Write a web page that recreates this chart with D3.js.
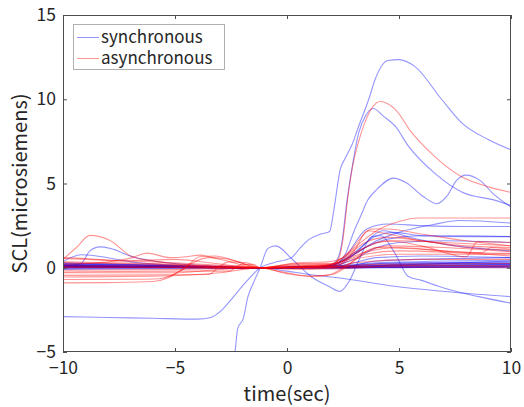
<!DOCTYPE html>
<html>
<meta charset="utf-8">
<style>
body { margin: 0; background: #fff; }
text { font-family: "Noto Sans CJK JP", "Noto Sans", sans-serif; fill: #262626; }
.trace { fill: none; stroke-width: 1.1; }
</style>
<body>
<svg id="chart" width="524" height="407"></svg>
<script src="https://cdn.jsdelivr.net/npm/d3@7"></script>
<script>
// ticks
var xTicks = [-10, -5, 0, 5, 10];
var yTicks = [-5, 0, 5, 10, 15];
var seriesNames = ["synchronous", "asynchronous"];

// synchronous traces, [time, SCL]
var sync01 = [[-10,-2.9],[-8,-2.95],[-6,-3.0],[-4,-3.05],[-3.4,-2.95],[-2.9,-2.5],[-2.5,-1.9],[-1.8,-0.8],[-1.2,0],[-0.6,0.3],[0.2,0.6],[0.6,1.2],[1.0,1.7],[1.5,2.0],[1.9,2.15],[2.1,3.5],[2.37,5.8],[2.6,6.5],[2.9,7.3],[3.2,8.4],[3.65,10.0],[3.94,11.2],[4.5,12.3],[5.0,12.35],[5.7,11.95],[6.9,10.0],[7.8,8.6],[9.0,7.6],[10,7.0]];
var sync02 = [[-10,0.15],[-6,0.1],[-1.2,0],[0,0.05],[1,0.05],[1.8,0.1],[2.2,0.4],[2.45,1.5],[2.68,4.0],[2.95,6.3],[3.2,8.0],[3.5,9.0],[3.85,9.45],[4.3,9.0],[4.83,8.4],[5.43,7.2],[6.6,5.6],[7.8,4.5],[9.3,4.0],[10,3.7]];
var sync03 = [[-10,0.1],[-1.2,0],[1,0.05],[2.0,0.15],[2.3,0.3],[2.6,0.8],[3.0,2.2],[3.3,3.1],[3.6,4.0],[4.0,4.63],[4.75,5.32],[5.34,5.03],[6.08,4.23],[6.7,3.8],[7.13,4.23],[7.58,5.2],[8.0,5.5],[8.6,5.2],[9.2,4.4],[10,3.6]];
var sync04 = [[-2.6,-7.5],[-2.32,-5.0],[-2.2,-3.6],[-1.95,-3.0],[-1.74,-1.7],[-1.5,-0.9],[-1.2,0],[-0.85,1.15],[-0.5,1.3],[0.2,0.55],[1.1,-0.55],[1.86,-1.1],[2.37,-1.4],[2.8,-0.75],[3.2,0.43],[3.8,1.85],[4.2,1.9],[4.8,0.9],[5.4,-0.5],[6.0,-0.75],[7,-1.2],[8.5,-1.7],[10,-2.1]];
var sync05 = [[-10,0.1],[-5,0.05],[-1.2,0],[0,-0.2],[1,-0.4],[2.6,-0.65],[4.8,-1.1],[7.8,-1.5],[10,-1.72]];
var sync06 = [[-10,0.1],[-9.2,0.24],[-8.8,1.0],[-8.35,1.24],[-7.9,1.15],[-6.9,0.65],[-5.4,0.3],[-3,0.1],[-1.2,0],[0,0.05],[1.5,0.1],[2.5,0.4],[3.5,1.2],[4.5,1.7],[6,1.9],[8,1.9],[10,1.85]];
var sync07 = [[-10,0.37],[-9.2,0.77],[-8.5,0.7],[-7,0.35],[-5,0.15],[-1.2,0],[1,0.05],[2,0.1],[3,0.5],[4,1.2],[5,1.5],[7,1.6],[10,1.5]];
var sync08 = [[-10,0.05],[-1.2,0],[1.5,0.05],[2,0.15],[3,0.8],[4,1.6],[5,2.1],[6.5,2.55],[7.7,2.8],[10,2.65]];
var sync09 = [[-10,0.0],[-1.2,0],[1.8,0.05],[2.5,0.5],[3.56,2.3],[4.5,2.6],[6,2.5],[8,2.45],[10,2.45]];
var sync10 = [[-10,0.15],[-1.2,0],[2,0.1],[3,0.9],[4,1.9],[4.8,2.1],[6,1.9],[8,1.85],[10,1.85]];
var sync11 = [[-10,0.1],[-1.2,0],[2.2,0.1],[3,0.8],[4.3,2.2],[5.5,1.8],[7,1.4],[10,1.0]];
var sync12 = [[-10,0.05],[-1.2,0],[2,0.05],[3,0.3],[4,0.6],[6,0.7],[10,0.6]];
var sync13 = [[-10,0.2],[-5,0.12],[-1.2,0],[2,0.05],[5,0.2],[10,0.3]];
var sync14 = [[-10,0.1],[-5,0.08],[-1.2,0],[2,0.0],[5,0.1],[10,0.15]];
var sync15 = [[-10,-0.05],[-5,0.0],[-1.2,0],[2,-0.05],[5,0.05],[10,0.05]];
var sync16 = [[-10,0.3],[-6,0.15],[-1.2,0],[2,0.1],[4,0.3],[10,0.45]];
var sync17 = [[-10,0.0],[-4,0.02],[-1.2,0],[3,0.1],[10,0.2]];
var sync18 = [[-10,0.15],[-1.2,0],[2.5,0.05],[4,0.4],[10,0.6]];
var sync19 = [[-10,-0.1],[-1.2,0],[3,0.0],[10,0.1]];
var sync20 = [[-10,0.25],[-7,0.2],[-1.2,0],[2,0.0],[3.5,0.2],[10,0.35]];
var sync21 = [[-10,0.05],[-1.2,0],[2,0.02],[10,0.0]];
var sync22 = [[-10,0.12],[-1.2,0],[2.5,0.1],[5,0.3],[10,0.25]];
var sync23 = [[-10,0.08],[-5,0.06],[-1.2,0],[2,0.03],[6,0.12],[10,0.18]];
var sync24 = [[-10,0.18],[-6,0.1],[-1.2,0],[2.5,0.05],[6,0.2],[10,0.22]];
var sync25 = [[-10,0.02],[-5,0.04],[-1.2,0],[2,0.05],[6,0.08],[10,0.1]];
var sync26 = [[-10,0.22],[-7,0.16],[-1.2,0],[3,0.08],[7,0.25],[10,0.4]];
var sync27 = [[-10,0.06],[-4,0.05],[-1.2,0],[2,0.0],[6,0.02],[10,0.05]];

// asynchronous traces, [time, SCL]
var async01 = [[-10,0.05],[-5,0.05],[-1.2,0],[1,0.05],[2.0,0.1],[2.3,0.5],[2.5,1.7],[2.7,4.0],[2.9,5.8],[3.2,7.5],[3.5,8.7],[3.8,9.5],[4.17,9.87],[4.83,9.4],[5.58,8.0],[6.6,6.6],[7.8,5.4],[9.0,4.8],[10,4.47]];
var async02 = [[-10,0.5],[-9.4,1.2],[-8.8,1.92],[-7.9,1.62],[-6.9,0.65],[-5.4,0.3],[-3,0.1],[-1.2,0],[0,0.1],[2,0.15],[3,0.8],[4,1.5],[5,1.6],[7,1.5],[10,1.3]];
var async03 = [[-10,0.3],[-6,0.2],[-1.2,0],[1,0.1],[1.8,0.15],[2.5,0.6],[3.2,1.4],[4.0,2.2],[5.0,2.75],[5.9,2.95],[10,2.95]];
var async04 = [[-10,0.2],[-8,0.35],[-6.9,0.6],[-6.26,0.87],[-5.2,0.6],[-4.5,0.65],[-3.9,0.75],[-3,0.5],[-1.2,0],[1,0.05],[2,0.2],[2.8,1.0],[3.8,2.3],[4.5,2.3],[6,2.0],[8,1.6],[10,1.3]];
var async05 = [[-10,-0.9],[-8,-0.88],[-6,-0.82],[-5.3,-0.6],[-4.8,-0.2],[-4.2,0.3],[-3.5,0.6],[-2.8,0.55],[-1.2,0],[1,-0.1],[2.2,0.1],[3,1.0],[3.6,2.2],[4.5,2.0],[6,1.6],[8,1.3],[10,1.2]];
var async06 = [[-10,-0.7],[-7,-0.68],[-5.7,-0.65],[-4.6,-0.06],[-3.9,0.65],[-3.2,0.7],[-2.4,0.45],[-1.2,0],[0.5,0.2],[2,0.2],[3,0.9],[4.5,1.6],[6,1.3],[8,0.65],[8.5,1.55],[10,1.5]];
var async07 = [[-10,-0.45],[-6,-0.42],[-3.5,-0.4],[-3.0,0.1],[-2.6,0.35],[-1.8,0.3],[-1.2,0],[0.5,0.25],[2,0.25],[3,0.6],[4,1.2],[6,1.1],[8,0.9],[10,0.85]];
var async08 = [[-10,-0.25],[-5,-0.2],[-2.6,-0.2],[-2.0,0.2],[-1.5,0.2],[-1.2,0],[0.5,0.3],[1.8,0.35],[2.5,0.6],[3.5,1.5],[4.5,1.8],[6,1.6],[8,1.2],[10,1.05]];
var async09 = [[-10,0.55],[-7,0.4],[-5,0.3],[-3,0.15],[-1.2,0],[0,-0.3],[1,-0.5],[2,-0.4],[2.8,0.2],[3.5,0.9],[5,1.2],[7,1.0],[8.7,0.9],[9.1,1.2],[10,1.1]];
var async10 = [[-10,0.35],[-6,0.25],[-1.2,0],[2,0.1],[3,0.5],[5,0.8],[10,0.8]];
var async11 = [[-10,-0.3],[-5,-0.3],[-3,-0.1],[-1.2,0],[2,0.0],[3,0.3],[6,0.5],[10,0.5]];
var async12 = [[-10,0.15],[-5,0.1],[-1.2,0],[2,0.05],[4,0.2],[10,0.25]];
var async13 = [[-10,-0.15],[-5,-0.1],[-1.2,0],[2,-0.05],[5,0.1],[10,0.1]];
var async14 = [[-10,0.0],[-1.2,0],[3,0.05],[10,0.0]];
var async15 = [[-10,0.6],[-9,0.55],[-7.5,0.4],[-5,0.5],[-3.5,0.3],[-1.2,0],[1,0.15],[2,0.2],[3,0.7],[4.5,1.3],[7,1.2],[10,0.95]];
var async16 = [[-10,-0.55],[-6,-0.5],[-3,-0.3],[-1.2,0],[0,-0.35],[1,-0.5],[1.8,-0.45],[2.5,0.0],[3.5,0.8],[5,1.0],[10,0.7]];
var async17 = [[-10,0.05],[-5,0.02],[-1.2,0],[2,0.05],[6,0.15],[10,0.1]];

var syncList = [sync01,sync02,sync03,sync04,sync05,sync06,sync07,sync08,sync09,sync10,sync11,sync12,sync13,
                sync14,sync15,sync16,sync17,sync18,sync19,sync20,sync21,sync22,sync23,sync24,sync25,sync26,sync27];
var asyncList = [async01,async02,async03,async04,async05,async06,async07,async08,async09,
                 async10,async11,async12,async13,async14,async15,async16,async17];

var blue = "rgba(0,0,255,0.42)";
var red = "rgba(255,0,0,0.42)";

var svg = d3.select("#chart");
var plotL = 63, plotR = 511, plotT = 15, plotB = 352;

var x = d3.scaleLinear().domain([-10, 10]).range([plotL, plotR]);
var y = d3.scaleLinear().domain([-5, 15]).range([plotB, plotT]);

function fmt(d) { return d < 0 ? "\u2212" + Math.abs(d) : "" + d; }

svg.append("clipPath").attr("id", "plotclip")
  .append("rect").attr("x", plotL).attr("y", plotT)
  .attr("width", plotR - plotL).attr("height", plotB - plotT);

var line = d3.line()
  .x(function(d) { return x(d[0]); })
  .y(function(d) { return y(d[1]); })
  .curve(d3.curveMonotoneX);

var plot = svg.append("g").attr("clip-path", "url(#plotclip)");

plot.selectAll(".sync").data(syncList).enter().append("path")
  .attr("class", "trace sync")
  .attr("stroke", blue)
  .attr("d", line);

plot.selectAll(".async").data(asyncList).enter().append("path")
  .attr("class", "trace async")
  .attr("stroke", red)
  .attr("d", line);

// axes, ticks pointing inward like matlab
var axisColor = "#4d4d4d";
var gx = svg.append("g").attr("transform", "translate(0," + plotB + ")")
  .call(d3.axisBottom(x).tickValues(xTicks).tickSizeInner(-4).tickSizeOuter(0).tickPadding(10).tickFormat(fmt));
var gy = svg.append("g").attr("transform", "translate(" + plotL + ",0)")
  .call(d3.axisLeft(y).tickValues(yTicks).tickSizeInner(-4).tickSizeOuter(0).tickPadding(7).tickFormat(fmt));
var gt = svg.append("g").attr("transform", "translate(0," + plotT + ")")
  .call(d3.axisTop(x).tickValues(xTicks).tickSizeInner(-4).tickSizeOuter(0).tickFormat(""));
var gr = svg.append("g").attr("transform", "translate(" + plotR + ",0)")
  .call(d3.axisRight(y).tickValues(yTicks).tickSizeInner(-4).tickSizeOuter(0).tickFormat(""));

[gx, gy, gt, gr].forEach(function(g) {
  g.select(".domain").remove();
  g.selectAll("line").attr("stroke", axisColor);
  g.selectAll("text").style("font-size", "17.5px").attr("fill", "#262626");
});
gx.selectAll("text").attr("dy", "0.7em");

svg.append("rect")
  .attr("x", plotL + 0.5).attr("y", plotT + 0.5)
  .attr("width", plotR - plotL - 1).attr("height", plotB - plotT - 1)
  .attr("fill", "none").attr("stroke", axisColor);

svg.append("text")
  .attr("x", (plotL + plotR) / 2).attr("y", 401)
  .attr("text-anchor", "middle").style("font-size", "20px")
  .text("time(sec)");

svg.append("text")
  .attr("transform", "translate(27," + ((plotT + plotB) / 2) + ") rotate(-90)")
  .attr("text-anchor", "middle").style("font-size", "20px")
  .text("SCL(microsiemens)");

// legend
var lg = svg.append("g");
lg.append("rect").attr("x", 73.5).attr("y", 24.5).attr("width", 151).attr("height", 45)
  .attr("fill", "#fff").attr("stroke", "#b0b0b0");
[blue, red].forEach(function(c, i) {
  var yy = 37.5 + i * 21;
  lg.append("line").attr("x1", 77).attr("x2", 99).attr("y1", yy).attr("y2", yy)
    .attr("stroke", c).attr("stroke-width", 1);
  lg.append("text").attr("x", 101).attr("y", yy).attr("dy", "0.35em")
    .style("font-size", "17px").text(seriesNames[i]);
});
</script>
</body>
</html>
